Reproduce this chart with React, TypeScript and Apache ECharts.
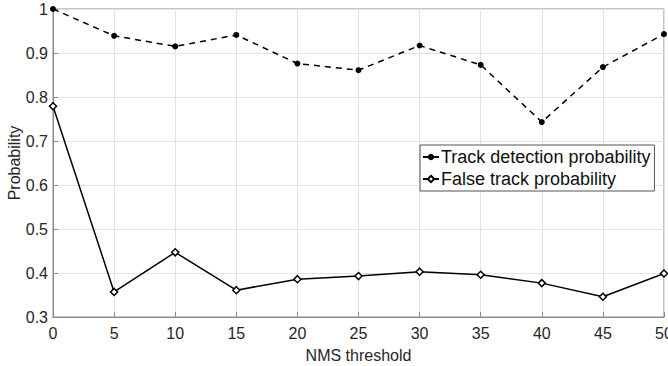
import React, { useEffect, useRef } from "react";
import * as echarts from "echarts";

const thresholds = [0, 5, 10, 15, 20, 25, 30, 35, 40, 45, 50];
const detectionProb = [1.0, 0.939, 0.915, 0.941, 0.876, 0.861, 0.917, 0.873, 0.743, 0.868, 0.943];
const falseTrackProb = [0.779, 0.357, 0.447, 0.361, 0.386, 0.393, 0.403, 0.396, 0.377, 0.346, 0.399];
const seriesNames = ["Track detection probability", "False track probability"];

export default function App() {
  const ref = useRef<HTMLDivElement>(null);
  useEffect(() => {
    if (!ref.current) return;
    const chart = echarts.init(ref.current, null, { renderer: "svg" });
    const axisColor = "#262626";
    const font = "Liberation Sans, Arial, sans-serif";
    chart.setOption({
      animation: false,
      backgroundColor: "#ffffff",
      grid: {
        left: 53,
        right: 4,
        top: 9,
        bottom: 49,
        containLabel: false,
        outerBoundsMode: "none",
        show: true,
        borderColor: "#8a8a8a",
        borderWidth: 1,
      },
      legend: {
        left: 420,
        top: 145,
        orient: "vertical",
        backgroundColor: "#ffffff",
        borderColor: "#555",
        borderWidth: 1,
        borderRadius: 0,
        padding: [3, 4, 3, 2],
        itemGap: 4,
        itemWidth: 16,
        itemHeight: 8,
        textStyle: { fontSize: 18, color: "#111", fontFamily: font, padding: [0, 0, 0, -3] },
        data: seriesNames,
      },
      xAxis: {
        type: "value",
        min: 0,
        max: 50,
        interval: 5,
        name: "NMS threshold",
        nameLocation: "middle",
        nameGap: 30,
        nameMoveOverlap: false,
        nameTextStyle: { fontSize: 16, color: axisColor, fontFamily: font },
        axisLine: { lineStyle: { color: "#8a8a8a" } },
        axisTick: { inside: true, length: 5, lineStyle: { color: "#8a8a8a" } },
        axisLabel: { fontSize: 16, color: axisColor, fontFamily: font, margin: 8 },
        splitLine: { show: true, lineStyle: { color: "#e3e3e3" } },
      },
      yAxis: {
        type: "value",
        min: 0.3,
        max: 1,
        interval: 0.1,
        name: "Probability",
        nameLocation: "middle",
        nameGap: 31,
        nameMoveOverlap: false,
        nameTextStyle: { fontSize: 16, color: axisColor, fontFamily: font },
        axisLine: { show: true, lineStyle: { color: "#8a8a8a" } },
        axisTick: { show: true, inside: true, length: 5, lineStyle: { color: "#8a8a8a" } },
        axisLabel: {
          fontSize: 16,
          color: axisColor,
          fontFamily: font,
          margin: 5,
          formatter: (v: number) => (Math.abs(v - 1) < 1e-9 ? "1" : v.toFixed(1)),
        },
        splitLine: { show: true, lineStyle: { color: "#e3e3e3" } },
      },
      series: [
        {
          name: seriesNames[0],
          type: "line",
          data: thresholds.map((x, i) => [x, detectionProb[i]]),
          symbol: "circle",
          symbolSize: 6,
          itemStyle: { color: "#000" },
          lineStyle: { color: "#000", width: 1.5, type: [6, 5] },
        },
        {
          name: seriesNames[1],
          type: "line",
          data: thresholds.map((x, i) => [x, falseTrackProb[i]]),
          symbol: "diamond",
          symbolSize: 7,
          itemStyle: { color: "#fff", borderColor: "#000", borderWidth: 1.5 },
          lineStyle: { color: "#000", width: 1.5 },
        },
      ],
    });
    return () => chart.dispose();
  }, []);
  return <div ref={ref} style={{ width: 668, height: 366, position: "absolute", left: 0, top: 0 }} />;
}
